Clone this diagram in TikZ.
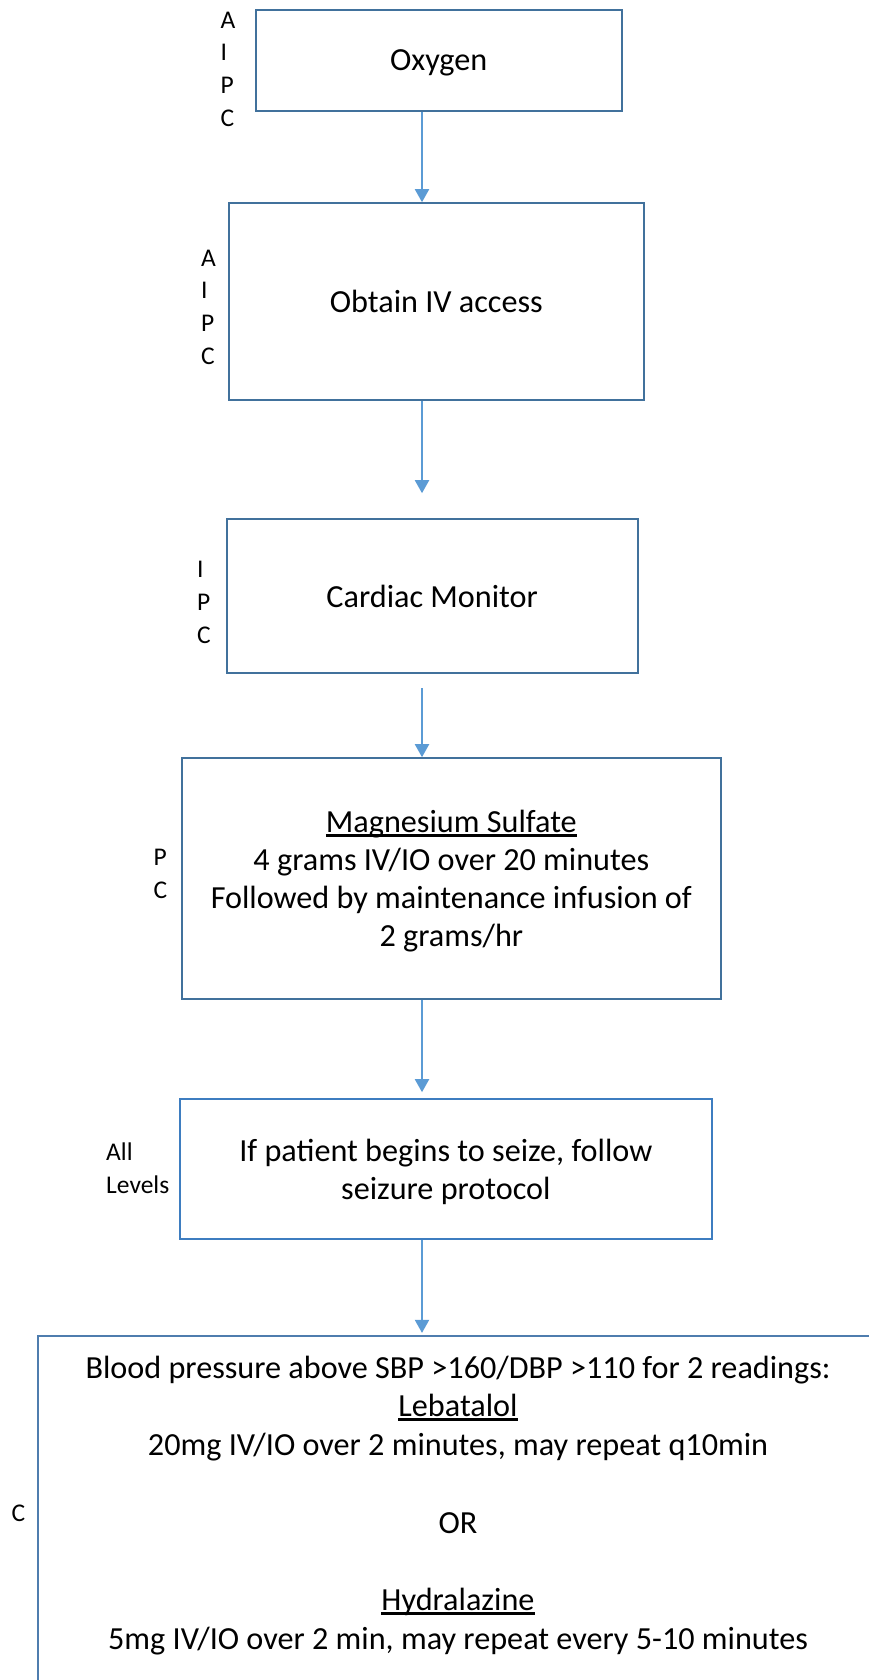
\documentclass[tikz,border=0pt]{standalone}
\usepackage{fontspec}
\setmainfont{Carlito}
\usetikzlibrary{arrows.meta}
\definecolor{boxblue}{HTML}{41719C}
\definecolor{boxbright}{HTML}{3E7DC0}
\definecolor{boxsoft}{HTML}{4F7DAE}
\definecolor{arrowblue}{HTML}{5B9BD5}
% underline that cuts through descenders, as in a word processor
\newcommand\ulword[1]{\leavevmode\setbox0=\hbox{#1}\rlap{\vrule height -0.045em depth 0.13em width \wd0}\box0}
\tikzset{
  stepbox/.style={draw=boxblue, line width=2.2pt, inner sep=0pt, align=center,
    text depth=0pt, font=\fontsize{32.2}{38}\selectfont},
  bodytext/.style={inner sep=0pt, align=center, text depth=0pt,
    font=\fontsize{32.2}{38.8}\selectfont},
  levels/.style={inner sep=0pt, anchor=west, align=left,
    font=\fontsize{25.5}{32.7}\selectfont},
  flow/.style={draw=arrowblue, line width=2pt, -{Triangle[width=14pt,length=13pt]}},
}
\begin{document}
\begin{tikzpicture}[x=1pt,y=-1pt]
\useasboundingbox (0,0) rectangle (869,1680);
\clip (0,0) rectangle (869,1680);

% step boxes
\node[stepbox, minimum width=366pt, minimum height=100.7pt] (ox) at (438.7,60.35) {Oxygen};
\node[stepbox, minimum width=414.7pt, minimum height=196.7pt] (iv) at (436.35,301.65) {Obtain IV access};
\node[stepbox, minimum width=411pt, minimum height=154pt] (cm) at (432.2,596.3) {Cardiac Monitor};
\node[stepbox, minimum width=539.3pt, minimum height=240.7pt] (mg) at (451.35,878.65)
  {\ulword{Magnesium Sulfate}\\4 grams IV/IO over 20 minutes\\Followed by maintenance infusion of\\2 grams/hr};
\node[stepbox, draw=boxbright, minimum width=531.7pt, minimum height=140pt] (sz) at (445.85,1169.3)
  {If patient begins to seize, follow\\seizure protocol};
\node[stepbox, draw=boxsoft, minimum width=840.6pt, minimum height=400pt] (bp) at (458,1536) {};
\node[bodytext] (bptext) at (458,1502.7)
  {Blood pressure above SBP >160/DBP >110 for 2 readings:\\\ulword{Lebatalol}\\20mg IV/IO over 2 minutes, may repeat q10min\\[38.8pt]OR\\[38.8pt]\ulword{Hydralazine}\\5mg IV/IO over 2 min, may repeat every 5-10 minutes};

% provider levels
\node[levels] (lox) at (220.5,69) {A\\I\\P\\C};
\node[levels] (liv) at (201,307) {A\\I\\P\\C};
\node[levels] (lcm) at (197,602.5) {I\\P\\C};
\node[levels] (lmg) at (153.5,874) {P\\C};
\node[levels] (lsz) at (106,1168.5) {All\\Levels};
\node[levels] (lbp) at (11.5,1513) {C};

% connectors
\coordinate (ax) at (422,0);
\draw[flow] (ox.south -| ax) -- (iv.north -| ax);
\draw[flow, shorten >=25pt] (iv.south -| ax) -- (cm.north -| ax);
\draw[flow, shorten <=14pt] (cm.south -| ax) -- (mg.north -| ax);
\draw[flow, shorten >=6pt] (mg.south -| ax) -- (sz.north -| ax);
\draw[flow, shorten >=2pt] (sz.south -| ax) -- (bp.north -| ax);
\end{tikzpicture}
\end{document}
